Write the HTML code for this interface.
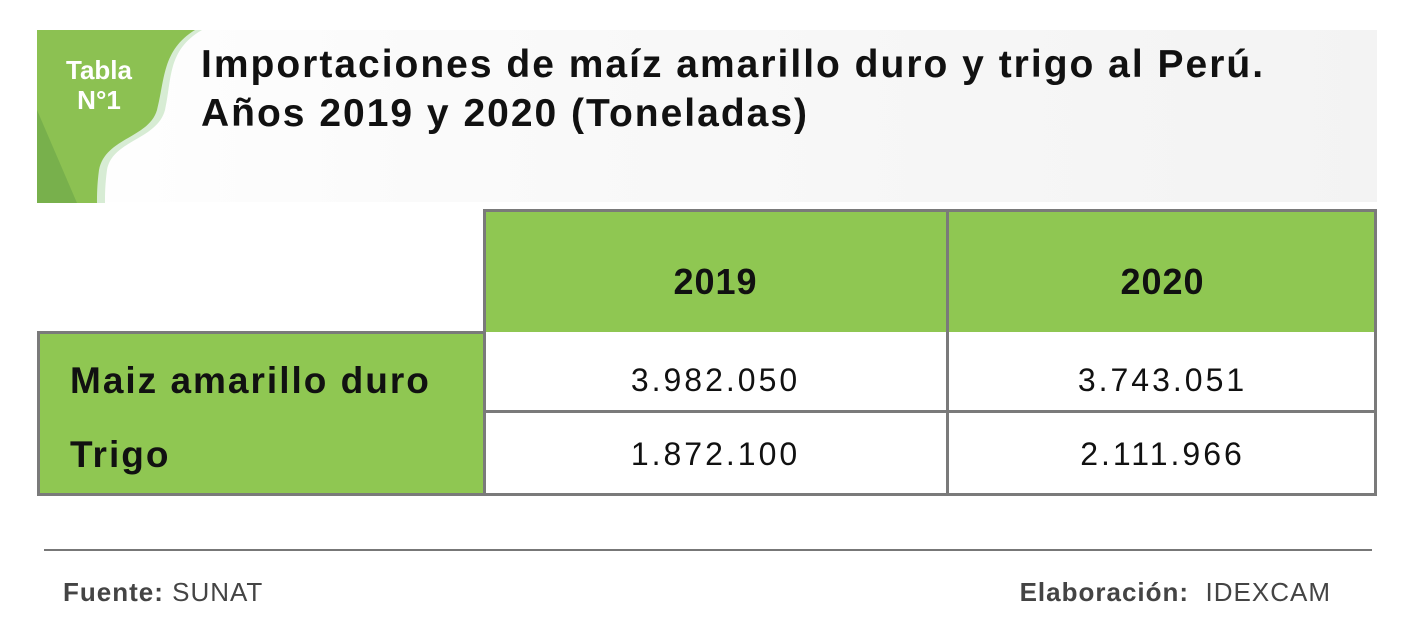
<!DOCTYPE html>
<html><head><meta charset="utf-8"><style>
body{margin:0;width:1407px;height:643px;background:#fff;position:relative;overflow:hidden;font-family:"Liberation Sans",sans-serif;}
.banner{position:absolute;left:37px;top:30px;width:1340px;height:172px;background:linear-gradient(90deg,#fff 0%,#fafafa 30%,#f3f3f3 100%);}
.title{position:absolute;left:201px;top:40px;font-size:39px;font-weight:bold;line-height:49px;color:#111;letter-spacing:2px;white-space:nowrap;}
.box{position:absolute;box-sizing:border-box;}
.t{position:absolute;font-weight:bold;color:#111;white-space:nowrap;}
.n{position:absolute;font-size:32px;color:#111;text-align:center;letter-spacing:3px;}
</style></head><body>
<div class="banner"></div>
<svg style="position:absolute;left:37px;top:30px" width="175" height="173">
<path d="M0 0 L165 0 C130 20,135 50,128 80 C120 110,75 110,70 140 C68 155,68 165,68 173 L0 173 Z" fill="#d7ecd4"/>
<path d="M0 0 L158 0 C125 20,128 50,120 80 C112 108,68 108,62 140 C60 155,60 165,60 173 L0 173 Z" fill="#8cc152"/>
<path d="M0 80 L40 173 L0 173 Z" fill="#6fa84a" opacity="0.7"/>
<text x="62" y="49" font-family="Liberation Sans" font-weight="bold" font-size="26" fill="#fff" text-anchor="middle">Tabla</text>
<text x="62" y="79" font-family="Liberation Sans" font-weight="bold" font-size="26" fill="#fff" text-anchor="middle">N°1</text>
</svg>
<div class="title">Importaciones de maíz amarillo duro y trigo al Perú.<br>Años 2019 y 2020 (Toneladas)</div>

<div class="box" style="left:483px;top:209px;width:894px;height:287px;border:3px solid #7a7a7a;background:#fff"></div>
<div class="box" style="left:486px;top:212px;width:888px;height:120px;background:#8fc752"></div>
<div class="box" style="left:946px;top:209px;width:3px;height:287px;background:#7a7a7a"></div>
<div class="box" style="left:483px;top:410px;width:894px;height:3px;background:#7a7a7a"></div>
<div class="box" style="left:37px;top:331px;width:449px;height:165px;border:3px solid #7a7a7a;background:#8fc752"></div>

<div class="t" style="left:483px;width:465px;top:261px;font-size:36px;text-align:center;letter-spacing:1px">2019</div>
<div class="t" style="left:948px;width:429px;top:261px;font-size:36px;text-align:center;letter-spacing:1px">2020</div>
<div class="t" style="left:70px;top:360px;font-size:37px;letter-spacing:2px">Maiz amarillo duro</div>
<div class="t" style="left:70px;top:434px;font-size:37px;letter-spacing:2px">Trigo</div>
<div class="n" style="left:483px;width:465px;top:362px">3.982.050</div>
<div class="n" style="left:948px;width:429px;top:362px">3.743.051</div>
<div class="n" style="left:483px;width:465px;top:436px">1.872.100</div>
<div class="n" style="left:948px;width:429px;top:436px">2.111.966</div>

<div class="box" style="left:44px;top:549px;width:1328px;height:2px;background:#777"></div>
<div style="position:absolute;left:63px;top:577px;font-size:26px;color:#444;letter-spacing:1px"><b>Fuente:</b> SUNAT</div>
<div style="position:absolute;right:76px;top:577px;font-size:26px;color:#444;letter-spacing:1px"><b>Elaboración:</b>&nbsp; IDEXCAM</div>
</body></html>
